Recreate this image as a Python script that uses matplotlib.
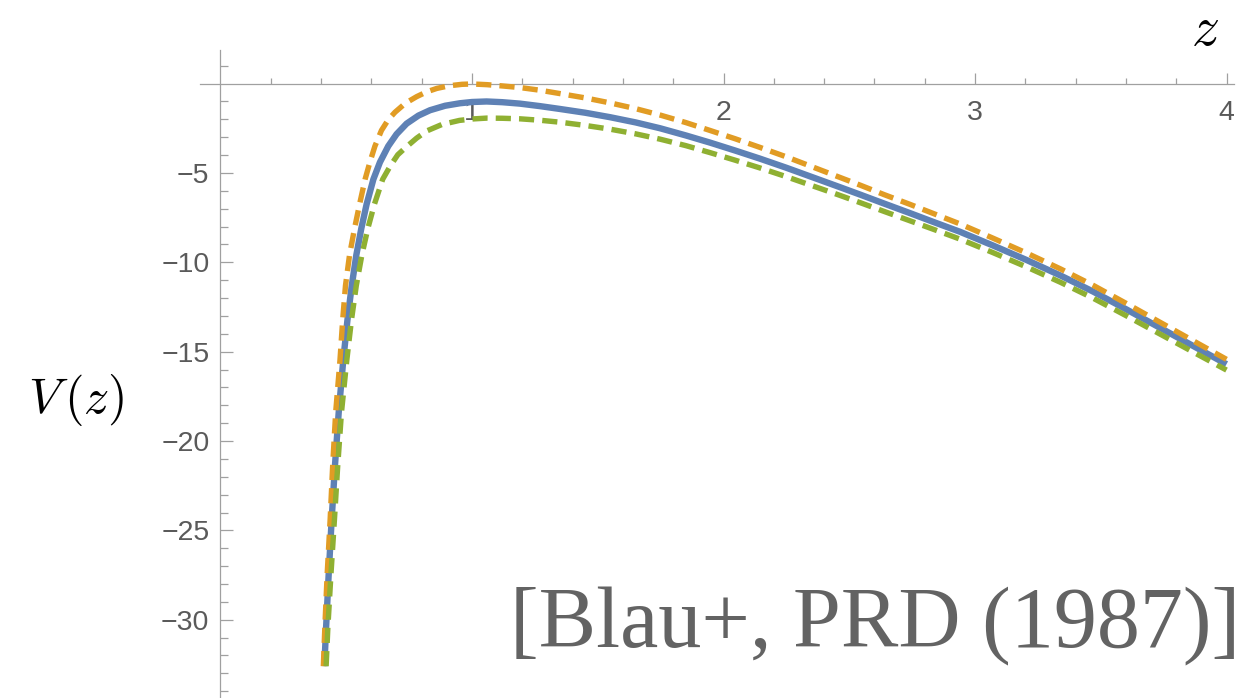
import numpy as np
import matplotlib
matplotlib.use("Agg")
import matplotlib.pyplot as plt
from matplotlib.ticker import FixedLocator, NullFormatter

plt.rcParams['mathtext.fontset'] = 'cm'
plt.rcParams['font.family'] = ['Liberation Sans', 'DejaVu Sans']

# potential V(z) -- full result (solid) and the two bounding approximations (dashed)
z_full = [0.413, 0.420, 0.430, 0.442, 0.455, 0.470, 0.488, 0.505, 0.522, 0.540,
          0.560, 0.581, 0.608, 0.634, 0.667, 0.700, 0.740, 0.787, 0.833, 0.893,
          0.952, 1.000, 1.058, 1.120, 1.19, 1.27, 1.35, 1.45, 1.549, 1.65,
          1.748, 1.85, 1.946, 2.045, 2.145, 2.25, 2.35, 2.45, 2.543, 2.64,
          2.74, 2.84, 2.94, 3.07, 3.205, 3.34, 3.47, 3.60, 3.735, 3.87, 4.0]
V_full = [-32.6, -30.4, -27.5, -24.4, -21.4, -18.4, -15.5, -13.2, -11.3, -9.6,
          -8.1, -6.75, -5.35, -4.40, -3.50, -2.83, -2.24, -1.79, -1.49, -1.24,
          -1.10, -1.03, -1.00, -1.04, -1.12, -1.26, -1.42, -1.63, -1.88, -2.17,
          -2.50, -2.90, -3.30, -3.74, -4.20, -4.71, -5.22, -5.73, -6.21, -6.72,
          -7.24, -7.77, -8.29, -9.05, -9.87, -10.74, -11.64, -12.62, -13.66, -14.70, -15.70]

z_upper = [0.409, 0.415, 0.424, 0.436, 0.446, 0.458, 0.475, 0.486, 0.497, 0.513,
           0.533, 0.553, 0.575, 0.594, 0.614, 0.640, 0.667, 0.694, 0.735, 0.780,
           0.820, 0.860, 0.910, 0.960, 1.000, 1.060, 1.120, 1.19, 1.27, 1.35,
           1.45, 1.549, 1.65, 1.748, 1.85, 1.946, 2.045, 2.145, 2.25, 2.35,
           2.45, 2.543, 2.64, 2.74, 2.84, 2.94, 3.07, 3.205, 3.34, 3.47,
           3.60, 3.735, 3.87, 4.0]
V_upper = [-32.6, -30.4, -27.5, -24.4, -21.4, -18.4, -15.5, -13.2, -11.3, -9.6,
           -8.1, -6.75, -5.35, -4.40, -3.50, -2.62, -2.02, -1.60, -1.10, -0.73,
           -0.46, -0.27, -0.12, -0.04, -0.02, -0.06, -0.13, -0.22, -0.37, -0.56,
           -0.80, -1.08, -1.40, -1.76, -2.18, -2.62, -3.08, -3.57, -4.10, -4.64,
           -5.18, -5.68, -6.22, -6.75, -7.30, -7.85, -8.64, -9.48, -10.37, -11.29,
           -12.29, -13.35, -14.41, -15.43]

z_lower = [0.420, 0.427, 0.439, 0.453, 0.466, 0.481, 0.502, 0.521, 0.540, 0.562,
           0.586, 0.612, 0.645, 0.675, 0.705, 0.740, 0.780, 0.820, 0.880, 0.950,
           1.000, 1.060, 1.120, 1.19, 1.27, 1.35, 1.45, 1.549, 1.65, 1.748,
           1.85, 1.946, 2.045, 2.145, 2.25, 2.35, 2.45, 2.543, 2.64, 2.74,
           2.84, 2.94, 3.07, 3.205, 3.34, 3.47, 3.60, 3.735, 3.87, 4.0]
V_lower = [-32.6, -30.4, -27.5, -24.4, -21.4, -18.4, -15.5, -13.2, -11.3, -9.6,
           -8.1, -6.75, -5.35, -4.61, -3.98, -3.53, -3.05, -2.65, -2.29, -2.06,
           -1.98, -1.93, -1.94, -1.97, -2.05, -2.16, -2.34, -2.55, -2.81, -3.11,
           -3.47, -3.86, -4.28, -4.72, -5.21, -5.70, -6.19, -6.66, -7.16, -7.67,
           -8.18, -8.70, -9.45, -10.26, -11.12, -12.01, -12.98, -14.01, -15.04, -16.03]

x_major = [1, 2, 3, 4]
y_major = [-30, -25, -20, -15, -10, -5]

fig = plt.figure(figsize=(12.5, 6.98), dpi=100)
ax = fig.add_axes([0, 0, 1, 1])
ax.set_xlim(-0.8767, 4.0934)
ax.set_ylim(-34.38, 4.678)

ax.plot(z_full, V_full, color='#5E81B5', lw=4.6, zorder=3,
        solid_capstyle='butt', solid_joinstyle='round')
ax.plot(z_upper, V_upper, color='#E19C24', lw=3.9, zorder=4,
        dashes=(2.8, 1.5), dash_capstyle='butt')
ax.plot(z_lower, V_lower, color='#8FB032', lw=3.9, zorder=5,
        dashes=(2.8, 1.5), dash_capstyle='butt')

# axes crossing at the origin
axis_col = '#a0a0a0'
for s in ['top', 'right']:
    ax.spines[s].set_visible(False)
ax.spines['left'].set_position(('data', 0))
ax.spines['bottom'].set_position(('data', 0))
ax.spines['left'].set_bounds(-34.4, 1.88)
ax.spines['bottom'].set_bounds(-0.08, 4.03)
for s in ['left', 'bottom']:
    ax.spines[s].set_color(axis_col)
    ax.spines[s].set_linewidth(0.9)
    ax.spines[s].set_zorder(1)

ax.xaxis.set_major_locator(FixedLocator(x_major))
ax.xaxis.set_minor_locator(FixedLocator([0.2 * k for k in range(1, 20)]))
ax.yaxis.set_major_locator(FixedLocator(y_major))
ax.yaxis.set_minor_locator(FixedLocator([k for k in range(-34, 2) if k != 0]))
ax.xaxis.set_minor_formatter(NullFormatter())
ax.yaxis.set_minor_formatter(NullFormatter())

ax.tick_params(which='both', direction='in', color=axis_col, width=0.9,
               labelcolor='#5a5a5a', labelsize=20.5)
ax.tick_params(axis='x', which='major', length=8, pad=12)
ax.tick_params(axis='x', which='minor', length=4.5)
ax.tick_params(axis='y', which='major', length=9, pad=8)
ax.tick_params(axis='y', which='minor', length=5.5)
ax.xaxis.set_zorder(1)
ax.yaxis.set_zorder(1)

fig.text(1205 / 1250, 1 - 31 / 698, r'$z$', fontsize=40, ha='center', va='center')
fig.text(76 / 1250, 1 - 400 / 698, r'$V\,(z)$', fontsize=36, ha='center', va='center')

fig.text(1240 / 1250, 1 - 647 / 698, '[Blau+, PRD (1987)]', fontsize=62,
         family='Liberation Serif', color='#636363', ha='right', va='baseline')

fig.savefig('out.png', dpi=100)
